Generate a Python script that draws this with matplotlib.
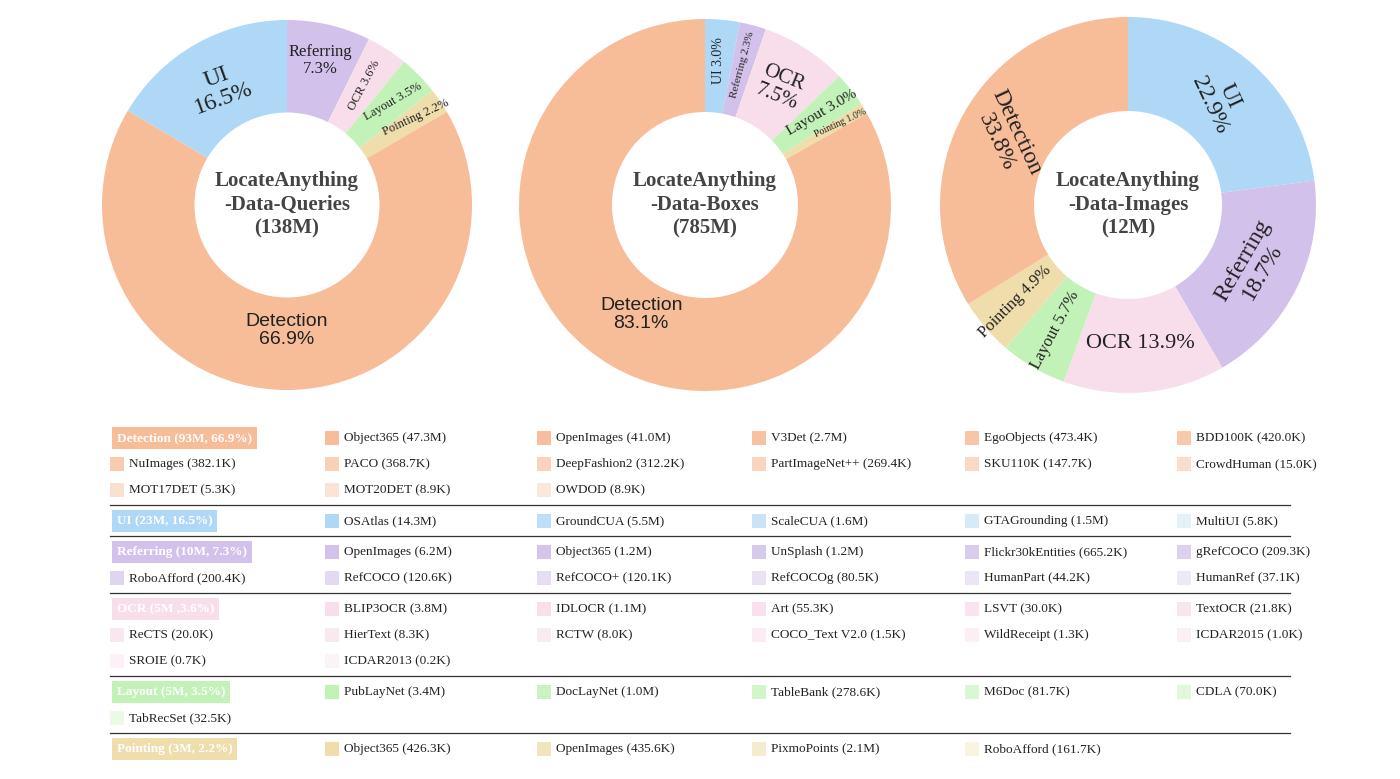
import numpy as np
import matplotlib.pyplot as plt
from matplotlib.patches import Rectangle

W, H = 1400, 779

cats = ["UI", "Referring", "OCR", "Layout", "Pointing", "Detection"]
colors = {"Detection": "#F7BC98", "UI": "#AFD8F6", "Referring": "#D2C1EA",
          "OCR": "#F8DEEB", "Layout": "#C3F2B8", "Pointing": "#EFDDAB"}

queries_pct = [16.5, 7.3, 3.6, 3.5, 2.2, 66.9]
boxes_pct = [3.0, 2.3, 7.5, 3.0, 1.0, 83.1]
images_pct = [22.9, 18.7, 13.9, 5.7, 4.9, 33.8]
pie_titles = ["LocateAnything\n-Data-Queries\n(138M)",
              "LocateAnything\n-Data-Boxes\n(785M)",
              "LocateAnything\n-Data-Images\n(12M)"]

groups = ["Detection", "UI", "Referring", "OCR", "Layout", "Pointing"]
group_heads = ["Detection (93M, 66.9%)", "UI (23M, 16.5%)", "Referring (10M, 7.3%)",
               "OCR (5M ,3.6%)", "Layout (5M, 3.5%)", "Pointing (3M, 2.2%)"]
det_items = ["Object365 (47.3M)", "OpenImages (41.0M)", "V3Det (2.7M)", "EgoObjects (473.4K)",
             "BDD100K (420.0K)", "NuImages (382.1K)", "PACO (368.7K)", "DeepFashion2 (312.2K)",
             "PartImageNet++ (269.4K)", "SKU110K (147.7K)", "CrowdHuman (15.0K)",
             "MOT17DET (5.3K)", "MOT20DET (8.9K)", "OWDOD (8.9K)"]
ui_items = ["OSAtlas (14.3M)", "GroundCUA (5.5M)", "ScaleCUA (1.6M)", "GTAGrounding (1.5M)",
            "MultiUI (5.8K)"]
ref_items = ["OpenImages (6.2M)", "Object365 (1.2M)", "UnSplash (1.2M)", "Flickr30kEntities (665.2K)",
             "gRefCOCO (209.3K)", "RoboAfford (200.4K)", "RefCOCO (120.6K)", "RefCOCO+ (120.1K)",
             "RefCOCOg (80.5K)", "HumanPart (44.2K)", "HumanRef (37.1K)"]
ocr_items = ["BLIP3OCR (3.8M)", "IDLOCR (1.1M)", "Art (55.3K)", "LSVT (30.0K)", "TextOCR (21.8K)",
             "ReCTS (20.0K)", "HierText (8.3K)", "RCTW (8.0K)", "COCO_Text V2.0 (1.5K)",
             "WildReceipt (1.3K)", "ICDAR2015 (1.0K)", "SROIE (0.7K)", "ICDAR2013 (0.2K)"]
lay_items = ["PubLayNet (3.4M)", "DocLayNet (1.0M)", "TableBank (278.6K)", "M6Doc (81.7K)",
             "CDLA (70.0K)", "TabRecSet (32.5K)"]
pt_items = ["Object365 (426.3K)", "OpenImages (435.6K)", "PixmoPoints (2.1M)", "RoboAfford (161.7K)"]
all_items = [det_items, ui_items, ref_items, ocr_items, lay_items, pt_items]

SERIF = "Liberation Serif"
SANS = "Liberation Sans"

fig = plt.figure(figsize=(14, 7.79), dpi=100)

# label styles: (radius, rotation, fontsize, family) per wedge
pie_specs = [
    dict(c=(287, 205), r=185, start=90 + 16.5 * 3.6, data=queries_pct,
         rot=[20, 0, 62, 30, 25, 0], fs=[17, 12, 9, 9, 9, 14], lr=[0.73, 0.8, 0.77, 0.8, 0.84, 0.68]),
    dict(c=(705, 205), r=186, start=90, data=boxes_pct,
         rot=[90, 75, -22, 30, 25, 0], fs=[10, 8, 15, 11, 7, 14], lr=[0.78, 0.78, 0.75, 0.8, 0.85, 0.68]),
    dict(c=(1128, 205), r=188, start=90, data=images_pct,
         rot=[-65, 60, 0, 62, 45, -65], fs=[17, 17, 16, 12, 12, 17], lr=[0.74, 0.74, 0.74, 0.77, 0.79, 0.74]),
]
for k, sp in enumerate(pie_specs):
    cx, cy = sp["c"]
    r = sp["r"]
    ax = fig.add_axes([(cx - r) / W, 1 - (cy + r) / H, 2 * r / W, 2 * r / H])
    wedges, _ = ax.pie(sp["data"], colors=[colors[c] for c in cats], startangle=sp["start"],
                       counterclock=False, radius=1, wedgeprops=dict(width=0.5, linewidth=0))
    ax.set_xlim(-1, 1)
    ax.set_ylim(-1, 1)
    ax.axis("off")
    for i, w in enumerate(wedges):
        ang = np.deg2rad((w.theta1 + w.theta2) / 2)
        lr = sp["lr"][i]
        name = cats[i]
        pct = sp["data"][i]
        if k == 0 and name in ("OCR", "Layout", "Pointing"):
            txt = f"{name} {pct}%"
        elif k == 1 and name in ("UI", "Referring", "Layout", "Pointing"):
            txt = f"{name} {pct}%"
        elif k == 2 and name in ("OCR", "Layout", "Pointing"):
            txt = f"{name} {pct}%"
        else:
            txt = f"{name}\n{pct}%"
        fam = SANS if (name == "Detection" and k < 2) else SERIF
        ax.text(lr * np.cos(ang), lr * np.sin(ang), txt, ha="center", va="center",
                rotation=sp["rot"][i], fontsize=sp["fs"][i], family=fam, color="#222222",
                linespacing=1.1)
    ax.text(0, 0, pie_titles[k], ha="center", va="center", fontsize=15, family=SERIF,
            fontweight="bold", color="#444444", linespacing=1.25)

# legend table
tax = fig.add_axes([0, 0, 1, 1])
tax.set_xlim(0, W)
tax.set_ylim(H, 0)
tax.axis("off")

col_x = [110, 325, 537, 752, 965, 1177]
row_h = 26
y = 438
sep_lines = []
for g, head, items in zip(groups, group_heads, all_items):
    tax.text(117, y, head, ha="left", va="center", fontsize=9.5, family=SERIF, fontweight="bold",
             color="white", bbox=dict(boxstyle="square,pad=0.35", fc=colors[g], ec="none"))
    slot = 1
    n = len(items)
    for j, it in enumerate(items):
        row, col = divmod(slot, 6)
        yy = y + row * row_h
        xx = col_x[col]
        a = 1.0 - 0.65 * j / max(n - 1, 1)
        tax.add_patch(Rectangle((xx, yy - 7), 14, 14, fc=colors[g], alpha=a, ec="none"))
        tax.text(xx + 19, yy, it, ha="left", va="center", fontsize=9.5, family=SERIF, color="#222222")
        slot += 1
    nrows = (slot - 1) // 6 + 1
    bottom = y + (nrows - 1) * row_h + 15
    sep_lines.append(bottom)
    y = bottom + 16
for ly in sep_lines[:-1]:
    tax.plot([110, 1290], [ly, ly], color="#333333", lw=0.9)

fig.savefig("out.png", dpi=100)
